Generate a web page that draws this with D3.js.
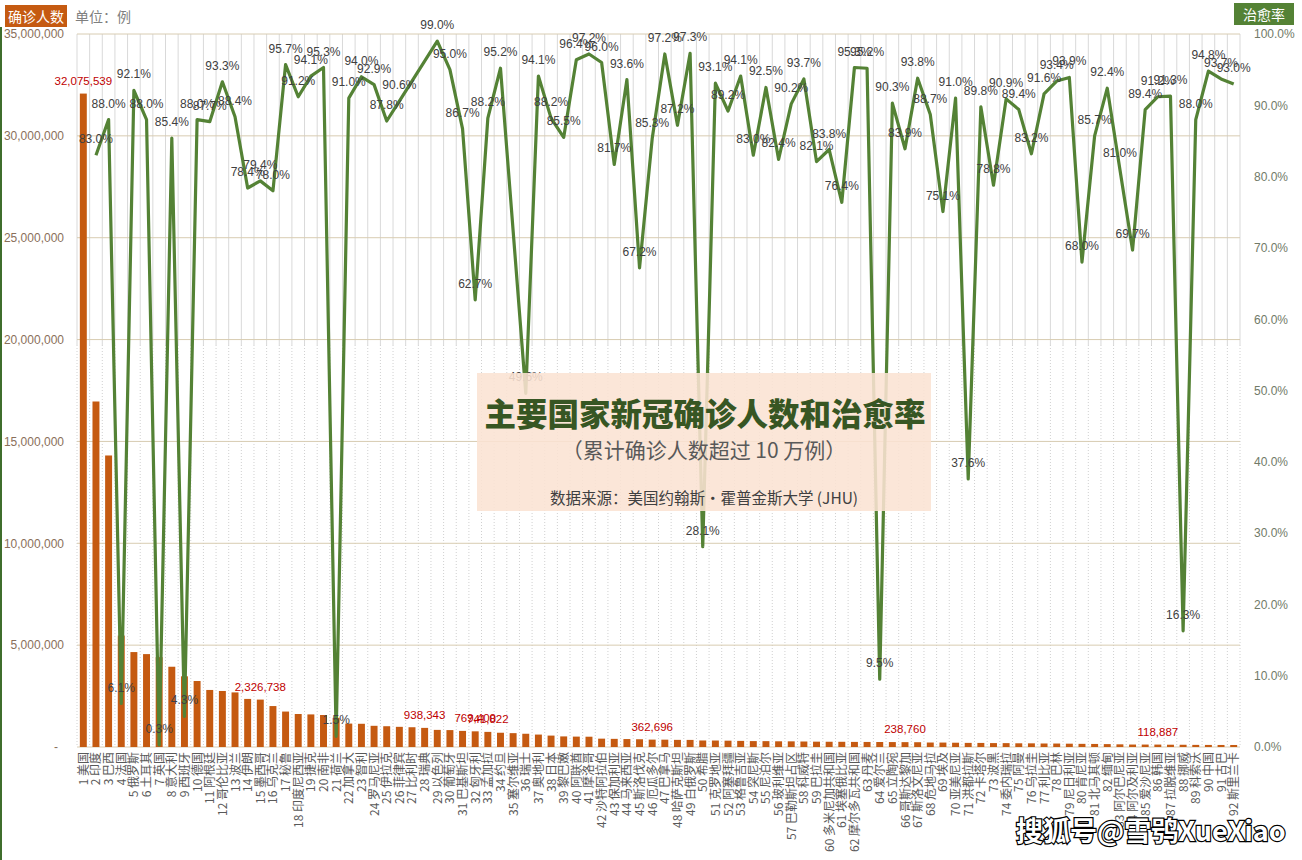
<!DOCTYPE html>
<html><head><meta charset="utf-8">
<script src="https://cdn.jsdelivr.net/npm/d3@7/dist/d3.min.js"></script>
<style>
html,body{margin:0;padding:0;background:#fff;}
svg{display:block;font-family:"Liberation Sans","Noto Sans CJK SC",sans-serif;}
</style></head><body>
<svg id="c" width="1302" height="860"></svg>
<script>
const countries = ["美国","印度","巴西","法国","俄罗斯","土耳其","英国","意大利","西班牙","德国",
"阿根廷","哥伦比亚","波兰","伊朗","墨西哥","乌克兰","秘鲁","印度尼西亚","捷克","南非",
"荷兰","加拿大","智利","罗马尼亚","伊拉克","菲律宾","比利时","瑞典","以色列","葡萄牙",
"巴基斯坦","匈牙利","孟加拉","约旦","塞尔维亚","瑞士","奥地利","日本","黎巴嫩","阿联酋",
"摩洛哥","沙特阿拉伯","保加利亚","马来西亚","斯洛伐克","厄瓜多尔","巴拿马","哈萨克斯坦","白俄罗斯","希腊",
"克罗地亚","阿塞拜疆","格鲁吉亚","突尼斯","尼泊尔","玻利维亚","巴勒斯坦占区","科威特","巴拉圭","多米尼加共和国",
"埃塞俄比亚","摩尔多瓦共和国","丹麦","爱尔兰","立陶宛","哥斯达黎加","斯洛文尼亚","危地马拉","埃及","亚美尼亚",
"洪都拉斯","卡塔尔","波黑","委内瑞拉","阿曼","乌拉圭","利比亚","巴林","尼日利亚","肯尼亚",
"北马其顿","缅甸","阿尔巴尼亚","阿尔及利亚","爱沙尼亚","韩国","拉脱维亚","挪威","科索沃","中国",
"古巴","斯里兰卡"];

const cases = [32075539,16960000,14310000,5470000,4660000,4560000,4410000,3940000,3470000,3240000,
2800000,2750000,2680000,2360000,2326738,2010000,1740000,1620000,1600000,1570000,
1430000,1150000,1140000,1040000,1020000,990000,970000,938343,840000,830000,
790000,769400,741822,700000,680000,650000,610000,560000,520000,510000,
505000,410000,400000,390000,380000,362696,360000,350000,348000,320000,
318000,310000,300000,290000,288000,280000,278000,270000,262000,258000,
256000,250000,248000,245000,242000,238760,235000,220000,218000,210000,
202000,200000,192000,190000,182000,180000,172000,170000,163000,155000,
150000,142000,131000,121000,120000,118887,112000,110000,104000,102000,
100000,99000];

const cureRate = [null,83.0,88.0,6.1,92.1,88.0,0.3,85.4,4.3,88.0,
87.7,93.3,88.4,78.4,79.4,78.0,95.7,91.2,94.1,95.3,
1.5,91.0,94.0,92.9,87.8,90.6,null,null,99.0,95.0,
86.7,62.7,88.2,95.2,null,49.6,94.1,88.2,85.5,96.4,
97.2,96.0,81.7,93.6,67.2,85.3,97.2,87.2,97.3,28.1,
93.1,89.2,94.1,83.0,92.5,82.4,90.2,93.7,82.1,83.8,
76.4,95.3,95.2,9.5,90.3,83.9,93.8,88.7,75.1,91.0,
37.6,89.8,78.8,90.9,89.4,83.2,91.6,93.4,93.9,68.0,
85.7,92.4,81.0,69.7,89.4,91.2,91.3,16.3,88.0,94.8,
93.7,93.0];

const labeledBars = [1,15,28,32,33,46,66,86];
const leftTicks = [0,5000000,10000000,15000000,20000000,25000000,30000000,35000000];
const rightTicks = [0,10,20,30,40,50,60,70,80,90,100];

const svg = d3.select("#c");
const L = 77, R = 1240, T = 34, B = 747;
const labels = countries.map((c,i)=>`${i+1} ${c}`);
const x = d3.scaleBand().domain(labels).range([L,R]).paddingInner(0.45).paddingOuter(0.225);
const step = x.step();
const yL = d3.scaleLinear().domain([0,35000000]).range([B,T]);
const yR = d3.scaleLinear().domain([0,100]).range([B,T]);
const cx = l => x(l) + x.bandwidth()/2;

// left edge green line
svg.append("rect").attr("x",0).attr("y",27).attr("width",2).attr("height",833).attr("fill","#3f6e2c");

// vertical gridlines
const g = svg.append("g");
for (let k=0;k<=labels.length;k++){
  const xx = L + k*step;
  g.append("line").attr("x1",xx).attr("x2",xx).attr("y1",T).attr("y2",345)
    .attr("stroke","#d9d9d9").attr("stroke-width",1);
  g.append("line").attr("x1",xx).attr("x2",xx).attr("y1",345).attr("y2",B)
    .attr("stroke","#d0d0d0").attr("stroke-width",1).attr("stroke-dasharray","1,2");
}
// horizontal gridlines
leftTicks.forEach(v=>{
  g.append("line").attr("x1",L).attr("x2",R).attr("y1",yL(v)).attr("y2",yL(v))
   .attr("stroke","#d8ccb2").attr("stroke-width",1);
});

// axes
const axL = svg.append("g").attr("transform",`translate(${L-13},0)`)
  .call(d3.axisLeft(yL).tickValues(leftTicks).tickSize(0).tickPadding(0)
  .tickFormat(v=> v===0 ? "-" : d3.format(",")(v)));
axL.select(".domain").remove();
axL.selectAll("text").attr("font-size",12).attr("fill","#8a6f5a").attr("font-family","Liberation Sans");
axL.selectAll(".tick").filter(d=>d===0).select("text").attr("dx",-6);

const axR = svg.append("g").attr("transform",`translate(1254,0)`)
  .call(d3.axisRight(yR).tickValues(rightTicks).tickSize(0).tickPadding(0)
  .tickFormat(v=>d3.format(".1f")(v)+"%"));
axR.select(".domain").remove();
axR.selectAll("text").attr("font-size",12).attr("fill","#717a68").attr("font-family","Liberation Sans");

// x labels
const xl = svg.append("g");
labels.forEach(l=>{
  xl.append("text").attr("transform",`translate(${cx(l)+4.5},752) rotate(-90)`)
    .attr("text-anchor","end").attr("font-size",12).attr("fill","#595959")
    .attr("font-family","Noto Sans CJK SC").text(l);
});

// bars
svg.append("g").selectAll("rect").data(cases).join("rect")
  .attr("x",(d,i)=>x(labels[i])).attr("width",x.bandwidth())
  .attr("y",d=>yL(d)).attr("height",d=>B-yL(d)).attr("fill","#c55a11");

// bar labels
svg.append("g").selectAll("text").data(labeledBars).join("text")
  .attr("x",i=>cx(labels[i-1])).attr("y",i=>yL(cases[i-1])-9)
  .attr("text-anchor","middle").attr("font-size",11.5).attr("fill","#c00000")
  .text(i=>d3.format(",")(cases[i-1]));

// line
const pts = cureRate.map((v,i)=>({v,l:labels[i]})).filter(d=>d.v!==null);
svg.append("path").datum(pts)
  .attr("d",d3.line().x(d=>cx(d.l)).y(d=>yR(d.v)))
  .attr("fill","none").attr("stroke","#548235").attr("stroke-width",3.2).attr("stroke-linejoin","round");

svg.append("g").selectAll("text").data(pts).join("text")
  .attr("x",d=>cx(d.l)).attr("y",d=>yR(d.v)-12)
  .attr("text-anchor","middle").attr("font-size",12).attr("fill","#404040")
  .text(d=>d3.format(".1f")(d.v)+"%");

// header boxes
svg.append("rect").attr("x",5).attr("y",5).attr("width",62).attr("height",22).attr("fill","#c55a11");
svg.append("text").attr("x",36).attr("y",21.5).attr("text-anchor","middle").attr("font-size",14)
  .attr("fill","#fff").attr("font-family","Noto Sans CJK SC").text("确诊人数");
svg.append("text").attr("x",75).attr("y",21.5).attr("font-size",14)
  .attr("fill","#7f7f7f").attr("font-family","Noto Sans CJK SC").text("单位：例");
svg.append("rect").attr("x",1234).attr("y",3).attr("width",60).attr("height",22).attr("fill","#548235");
svg.append("text").attr("x",1264).attr("y",19.5).attr("text-anchor","middle").attr("font-size",14)
  .attr("fill","#fff").attr("font-family","Noto Sans CJK SC").text("治愈率");

// title box
svg.append("rect").attr("x",477).attr("y",373).attr("width",454).attr("height",138)
  .attr("fill","#fbe3d3").attr("opacity",0.88);
svg.append("text").attr("x",705).attr("y",426).attr("text-anchor","middle").attr("font-size",31.5)
  .attr("font-weight","900").attr("fill","#375623").attr("font-family","Noto Sans CJK SC")
  .text("主要国家新冠确诊人数和治愈率");
svg.append("text").attr("x",704).attr("y",458).attr("text-anchor","middle").attr("font-size",21)
  .attr("fill","#595959").attr("font-family","Noto Sans CJK SC")
  .text("（累计确诊人数超过 10 万例）");
svg.append("text").attr("x",704).attr("y",504).attr("text-anchor","middle").attr("font-size",15.5)
  .attr("fill","#404040").attr("font-family","Noto Sans CJK SC")
  .text("数据来源：美国约翰斯·霍普金斯大学 (JHU)");

// watermark
svg.append("text").attr("x",1016).attr("y",841).attr("font-size",27)
  .attr("fill","#fff").attr("stroke","#000").attr("stroke-width",2.4).attr("paint-order","stroke")
  .attr("font-weight","bold")
  .attr("font-family","Noto Sans CJK SC").text("搜狐号@雪鸮XueXiao");
</script></body></html>
